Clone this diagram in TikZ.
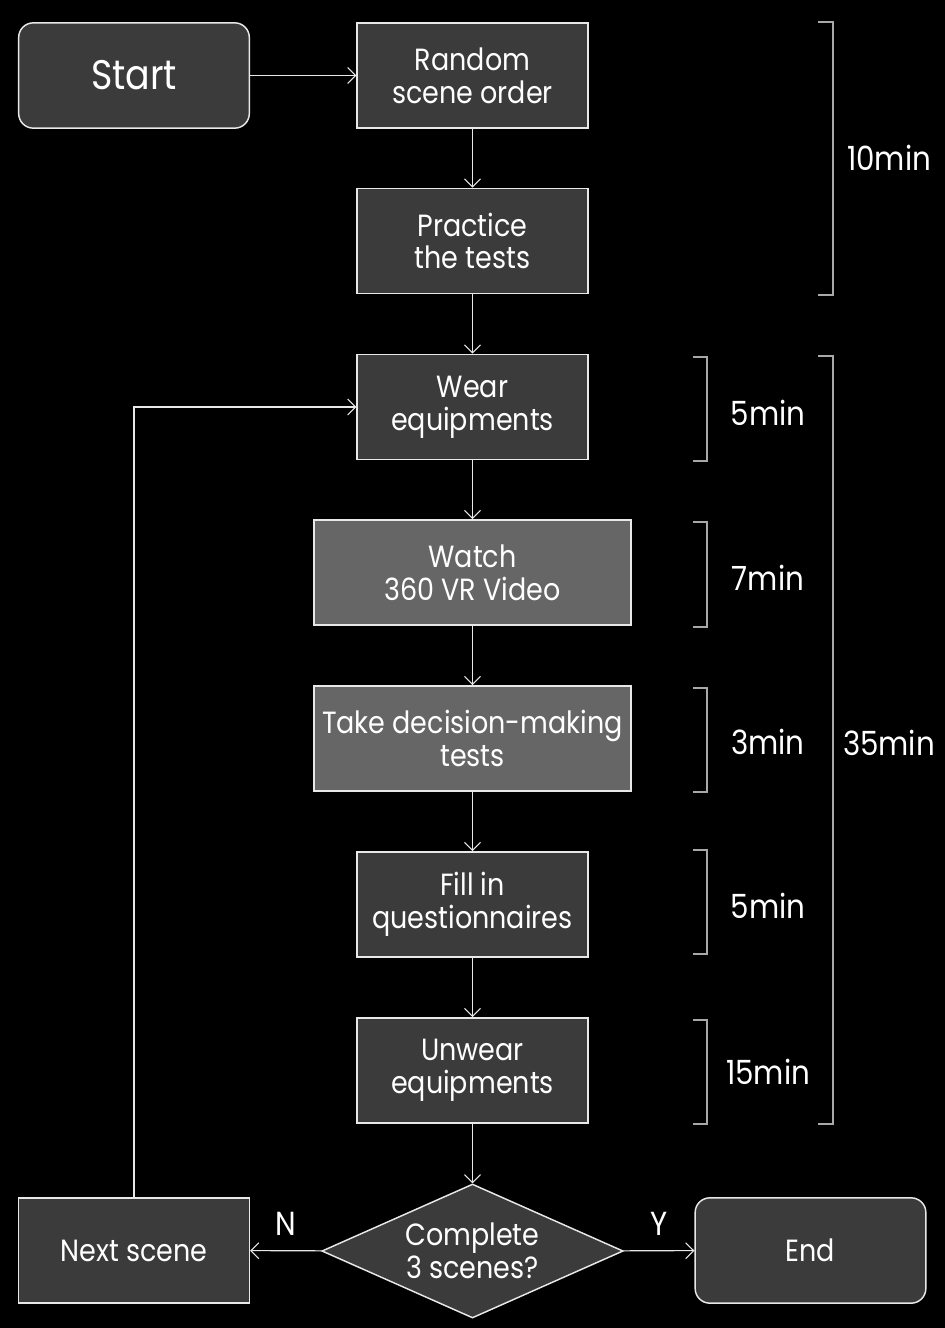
\documentclass[tikz,border=0pt]{standalone}
\usepackage{fontspec}
\setmainfont{Poppins}[FakeStretch=0.88]
\usetikzlibrary{arrows.meta,shapes.geometric}
\definecolor{boxgray}{HTML}{3B3B3B}
\definecolor{lightbox}{HTML}{666666}
\definecolor{edgewhite}{HTML}{E8E8E8}
\definecolor{brkgray}{HTML}{A8A8A8}
\tikzset{
  arr/.style={draw=edgewhite,line width=0.8pt,-{Straight Barb[length=6pt,width=12pt,line width=0.8pt]}},
  box/.style={draw=edgewhite,line width=1.1pt,fill=boxgray,text=white,align=center,
    minimum width=173pt,minimum height=79pt,inner sep=0pt,
    font=\fontsize{23}{24.5}\selectfont},
  widebox/.style={box,fill=lightbox,minimum width=238pt},
  term/.style={box,rounded corners=11pt},
  brk/.style={draw=brkgray,line width=0.8pt},
  timelbl/.style={text=white,font=\fontsize{25}{27}\selectfont},
}
\begin{document}
\begin{tikzpicture}[x=0.75pt,y=-0.75pt]
\fill[black] (0,0) rectangle (945,1328);
% main column
\node[term,font=\fontsize{31}{33}\selectfont] (start) at (134,75.5) {Start};
\node[box] (order) at (472.5,75.5) {Random\\scene order};
\node[box] (practice) at (472.5,241) {Practice\\the tests};
\node[box] (wear) at (472.5,407) {Wear\\equipments};
\node[widebox] (watch) at (472.5,572.5) {Watch\\360 VR Video};
\node[widebox] (decide) at (472.5,738.5) {Take decision-making\\tests};
\node[box] (fill) at (472.5,904.5) {Fill in\\questionnaires};
\node[box] (unwear) at (472.5,1070.5) {Unwear\\equipments};
\node[diamond,draw=edgewhite,line width=1.1pt,fill=boxgray,text=white,align=center,
  inner sep=0pt,aspect=2.25,minimum width=226pt,minimum height=100.5pt,
  font=\fontsize{23}{24.5}\selectfont] (check) at (472.5,1251) {Complete\\3 scenes?};
\node[box] (next) at (134,1250.5) {Next scene};
\node[term] (end) at (810.5,1250.5) {End};
% connectors
\draw[arr] (start) -- (order);
\draw[arr] (order) -- (practice);
\draw[arr] (practice) -- (wear);
\draw[arr] (wear) -- (watch);
\draw[arr] (watch) -- (decide);
\draw[arr] (decide) -- (fill);
\draw[arr] (fill) -- (unwear);
\draw[arr] (unwear) -- (check);
\draw[arr] (check) -- node[timelbl,above=8pt,pos=0.5] (nlbl) {N} (next);
\draw[arr] (check) -- node[timelbl,above=8pt,pos=0.5] (ylbl) {Y} (end);
\draw[arr] (next.north) |- (wear.west);
% time brackets
\draw[brk] (818,22) -- (833,22) -- (833,295) -- (818,295);
\draw[brk] (818,356) -- (833,356) -- (833,1124) -- (818,1124);
\foreach \ya/\yb in {357/461,522/627,688/792,850/954,1020/1124}
  \draw[brk] (693,\ya) -- (707,\ya) -- (707,\yb) -- (693,\yb);
\node[timelbl] (t10) at (889,158) {10min};
\node[timelbl] (t35) at (889,743) {35min};
\node[timelbl] (t5a) at (768,413) {5min};
\node[timelbl] (t7) at (768,578) {7min};
\node[timelbl] (t3) at (768,742) {3min};
\node[timelbl] (t5b) at (768,906) {5min};
\node[timelbl] (t15) at (768,1072) {15min};
\end{tikzpicture}
\end{document}
